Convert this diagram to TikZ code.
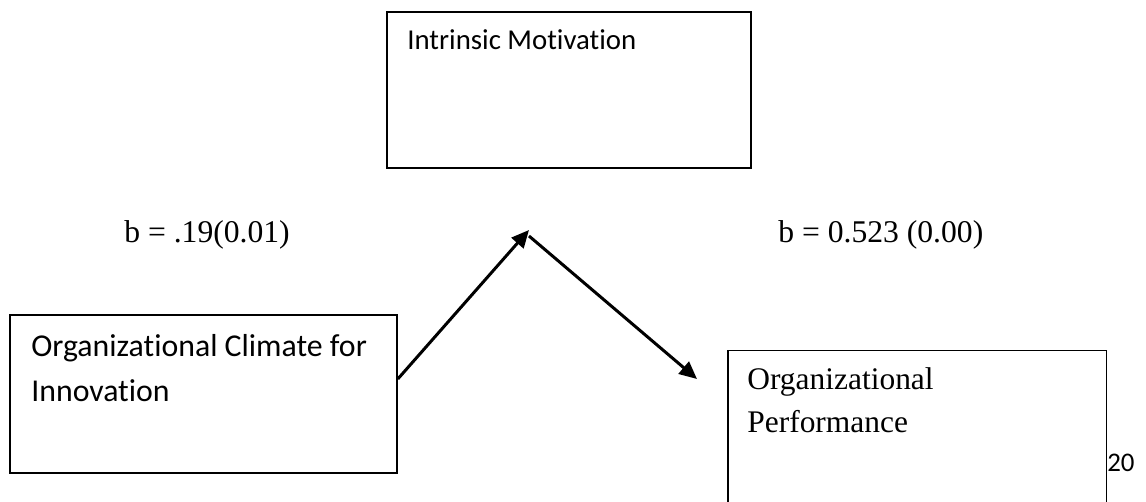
\documentclass[tikz,border=0pt]{standalone}
\usepackage{fontspec}
\setmainfont{Liberation Serif}
\newfontfamily\calibri[Ligatures=CommonOff]{Carlito}
\usetikzlibrary{arrows.meta,calc}
\tikzstyle{box}=[draw, line width=1.1pt, rectangle, anchor=north west, inner sep=0pt]
\tikzstyle{boxtext}=[anchor=base west, inner sep=0pt, align=left]
\tikzstyle{arr}=[line width=1.7pt, -{Triangle[length=10pt,width=9pt]}]

\begin{document}
\begin{tikzpicture}[x=0.02cm, y=-0.02cm]
 \useasboundingbox (0,0) rectangle (1146,502);
 \clip (0,0) rectangle (1146,502);
%
 \node[box, minimum width=7.28cm, minimum height=3.12cm] (motiv) at (386,11) {};
 \node[box, minimum width=7.74cm, minimum height=3.16cm] (climate) at (9,314) {};
 \node[box, line width=0.85pt, minimum width=7.58cm, minimum height=4cm] (perf) at (727,350) {};
%
 \node[boxtext, font=\calibri\fontsize{16.4}{20}\selectfont] (motivtext) at (407,50) {Intrinsic Motivation};
 \node[boxtext, font=\calibri\fontsize{18.1}{25.5}\selectfont, anchor=north west] (climatetext) at (31,334) {Organizational Climate for\\Innovation};
 \node[boxtext, font=\fontsize{17.9}{24.4}\selectfont, anchor=north west] (perftext) at (747,367) {Organizational\\Performance};
 \node[boxtext, font=\calibri\fontsize{15.3}{18}\selectfont] (page) at (1107,472) {20};
%
 \node[boxtext, font=\fontsize{18}{20}\selectfont] (coefa) at (124,243) {b = .19(0.01)};
 \node[boxtext, font=\fontsize{18}{20}\selectfont] (coefb) at (778,243) {b = 0.523 (0.00)};
%
 \coordinate (peak) at (529,230);
 \coordinate (peakb) at (529,236);
 \coordinate (perfin) at (697,379);
 \draw[arr] ($(climate.east)+(0,-15)$) -- (peak);
 \draw[arr] (peakb) -- (perfin);
\end{tikzpicture}
\end{document}
